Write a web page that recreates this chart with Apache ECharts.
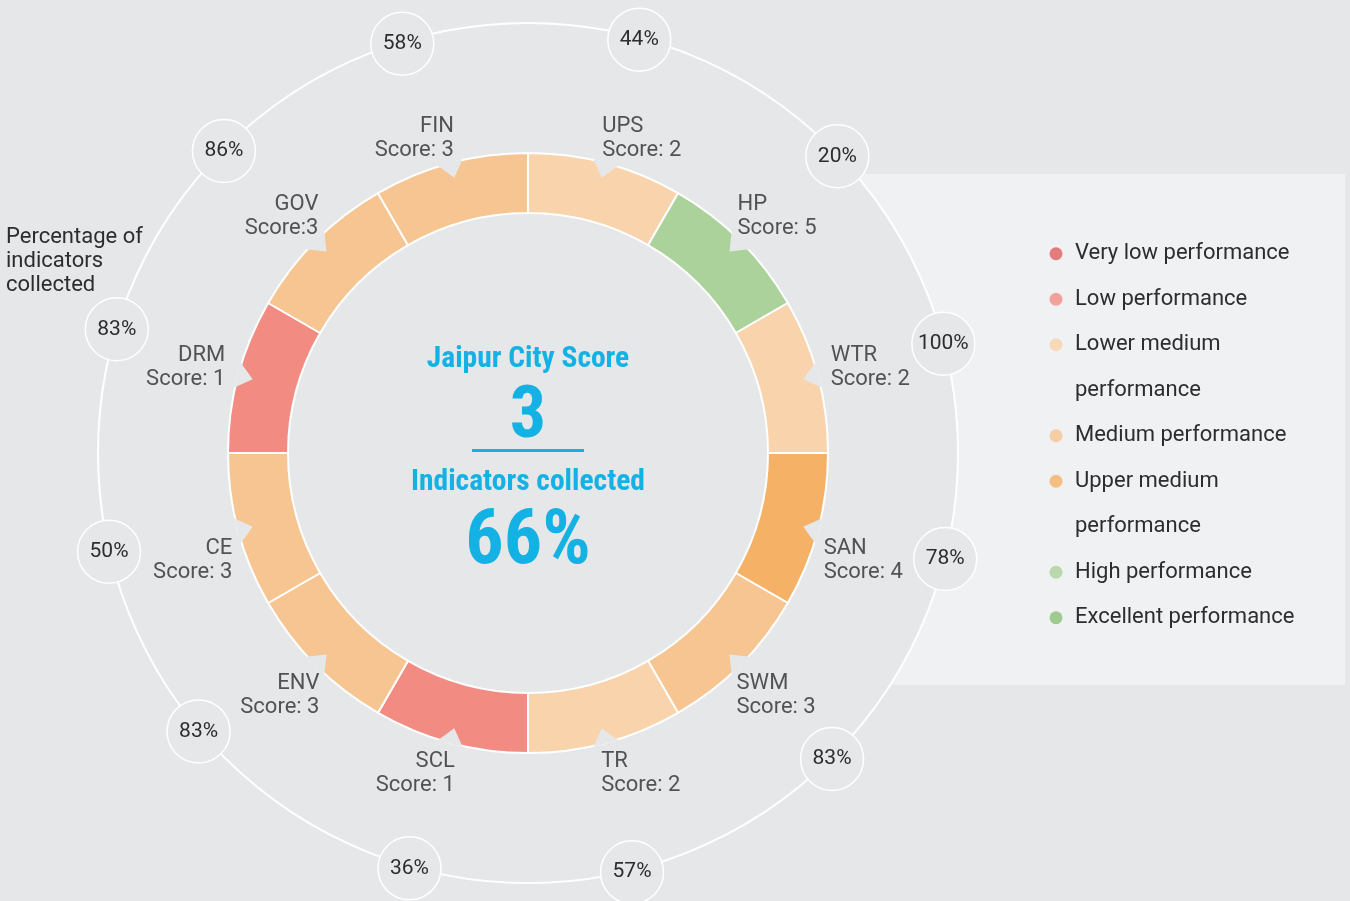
<!DOCTYPE html>
<html>
<head>
<meta charset="utf-8">
<title>Jaipur City Score</title>
<script src="https://cdn.jsdelivr.net/npm/echarts@6/dist/echarts.min.js"></script>
<style>
  html, body { margin: 0; padding: 0; background: #e6e7e9; }
  #main { width: 1350px; height: 901px; }
</style>
</head>
<body>
<div id="main"></div>
<script>
// sectors, clockwise from 12 o'clock
var sectors = ['UPS', 'HP', 'WTR', 'SAN', 'SWM', 'TR', 'SCL', 'ENV', 'CE', 'DRM', 'GOV', 'FIN'];
var scores = [2, 5, 2, 4, 3, 2, 1, 3, 3, 1, 3, 3];
// percentage of indicators collected per sector, and where its bubble sits (deg, clockwise from top)
var collected = [44, 20, 100, 78, 83, 57, 36, 83, 50, 83, 86, 58];
var collectedAngle = [15, 46, 75, 104, 135, 166, 196, 230, 257, 287, 315, 343];
// score -> level (index = score)
var levels = ['Very low performance', 'Low performance', 'Lower medium performance', 'Medium performance',
  'Upper medium performance', 'High performance', 'Excellent performance'];
var levelColors = ['#e05f5f', '#f28c83', '#f9d3ab', '#f7c591', '#f5b166', '#acd29b', '#8ac173'];
var cityScore = 3;
var cityCollected = 66;

var BG = '#e6e7e9';
var TXT = '#2d2d2d';
var BLUE = '#14b2e4';
var COND = "'Roboto Condensed', 'Liberation Sans Narrow', 'DejaVu Sans Condensed', 'Roboto', sans-serif";
var CX = 528, CY = 453, R_OUT = 430;
var step = 360 / sectors.length;

function mid(i) {
  return step * i + step / 2;
}

var myChart = echarts.init(document.getElementById('main'));

// labels sit just outside the ring, corner toward the sector
var labelData = sectors.map(function (s, i) {
  var a = mid(i) * Math.PI / 180;
  var right = Math.sin(a) > 0;
  var top = Math.cos(a) > 0;
  var side = Math.abs(Math.sin(a)) > 0.9;
  var dx = top ? (side ? 11 : -4) : (side ? 4 : -5);
  var vAlign = 'top', dy = 3;
  if (top && side) {
    vAlign = 'middle';
    dy = -7;
  } else if (top) {
    vAlign = 'bottom';
    dy = 3;
  }
  return {
    name: s + '\n' + (s === 'GOV' ? 'Score:' : 'Score: ') + scores[i],
    value: [302, mid(i)],
    label: {
      align: right ? 'left' : 'right',
      verticalAlign: vAlign,
      offset: [right ? dx : -dx, dy]
    }
  };
});

// legend: two long names wrap, so their second line is its own entry
var legendData = [];
var levelSeries = [];
levels.forEach(function (l, k) {
  legendData.push(l);
  levelSeries.push({ name: l, type: 'scatter', coordinateSystem: 'polar', data: [], itemStyle: { color: levelColors[k] } });
  if (l.indexOf(' medium ') >= 0) {
    legendData.push({ name: l + ' ', icon: 'none' });
    levelSeries.push({ name: l + ' ', type: 'scatter', coordinateSystem: 'polar', data: [], itemStyle: { color: levelColors[k] } });
  }
});

var option = {
  backgroundColor: BG,
  textStyle: { fontFamily: 'Roboto' },
  graphic: [
    {
      type: 'rect',
      z: 0,
      silent: true,
      shape: { x: 700, y: 174, width: 645, height: 511 },
      style: { fill: '#f0f1f3' }
    },
    {
      type: 'circle',
      z: 1,
      silent: true,
      shape: { cx: CX, cy: CY, r: R_OUT },
      style: { fill: BG, stroke: '#fff', lineWidth: 2 }
    }
  ],
  title: [
    {
      text: '{t1|Jaipur City Score}\n{n|' + cityScore + '}\n{hr|}\n{t2|Indicators collected}\n{p|' + cityCollected + '%}',
      left: CX,
      top: 331,
      padding: 0,
      textAlign: 'center',
      textVerticalAlign: 'top',
      textStyle: {
        rich: {
          t1: { fontFamily: COND, fontWeight: 'bold', fontSize: 29.5, lineHeight: 58, color: BLUE },
          n: { fontFamily: COND, fontWeight: 'bold', fontSize: 72, lineHeight: 60, color: BLUE },
          hr: { width: 112, height: 3, lineHeight: 3, backgroundColor: BLUE },
          t2: { fontFamily: COND, fontWeight: 'bold', fontSize: 29.5, lineHeight: 62, color: BLUE },
          p: { fontFamily: COND, fontWeight: 'bold', fontSize: 76, lineHeight: 60, color: BLUE }
        }
      }
    },
    {
      text: 'Percentage of\nindicators\ncollected',
      left: 6,
      top: 225,
      padding: 0,
      textStyle: { fontFamily: 'Roboto', fontSize: 22, lineHeight: 24, fontWeight: 'normal', color: TXT }
    }
  ],
  legend: {
    orient: 'vertical',
    left: 1042,
    top: 231,
    padding: 0,
    itemGap: 0,
    itemWidth: 28,
    itemHeight: 13,
    icon: 'circle',
    selectedMode: false,
    data: legendData,
    formatter: function (n) {
      return n.slice(-1) === ' ' ? 'performance' : n.replace(' medium performance', ' medium');
    },
    textStyle: { fontFamily: 'Roboto', fontSize: 22, lineHeight: 45.5, color: TXT }
  },
  polar: {
    center: [CX, CY],
    radius: R_OUT
  },
  angleAxis: {
    type: 'value',
    min: 0,
    max: 360,
    startAngle: 90,
    clockwise: true,
    show: false
  },
  radiusAxis: {
    type: 'value',
    min: 0,
    max: R_OUT,
    show: false
  },
  series: [
    {
      name: 'score',
      type: 'pie',
      center: [CX, CY],
      radius: [240, 300],
      startAngle: 90,
      clockwise: true,
      silent: true,
      label: { show: false },
      labelLine: { show: false },
      itemStyle: { borderColor: '#fff', borderWidth: 2 },
      data: sectors.map(function (s, i) {
        return { name: s, value: 1, itemStyle: { color: levelColors[scores[i]] } };
      })
    },
    {
      name: 'notch',
      type: 'scatter',
      coordinateSystem: 'polar',
      silent: true,
      symbol: 'triangle',
      symbolSize: [26, 16],
      itemStyle: { color: BG, opacity: 1 },
      data: sectors.map(function (s, i) {
        return { value: [293, mid(i)], symbolRotate: 180 - mid(i) };
      })
    },
    {
      name: 'labels',
      type: 'scatter',
      coordinateSystem: 'polar',
      silent: true,
      symbolSize: 0,
      label: {
        show: true,
        position: [0, 0],
        formatter: '{b}',
        fontFamily: 'Roboto',
        fontSize: 22,
        lineHeight: 24,
        color: TXT,
        backgroundColor: BG,
        padding: [2, 0, 2, 0]
      },
      data: labelData
    },
    {
      name: 'collected',
      type: 'scatter',
      coordinateSystem: 'polar',
      silent: true,
      symbolSize: 63,
      symbolOffset: [0, 2],
      itemStyle: { color: BG, borderColor: '#fff', borderWidth: 1.5, opacity: 1 },
      label: {
        show: true,
        position: 'inside',
        formatter: '{b}',
        fontFamily: 'Roboto',
        fontSize: 21,
        color: TXT
      },
      data: collected.map(function (p, i) {
        return { name: p + '%', value: [R_OUT, collectedAngle[i]] };
      })
    }
  ].concat(levelSeries)
};

myChart.setOption(option);
</script>
</body>
</html>
